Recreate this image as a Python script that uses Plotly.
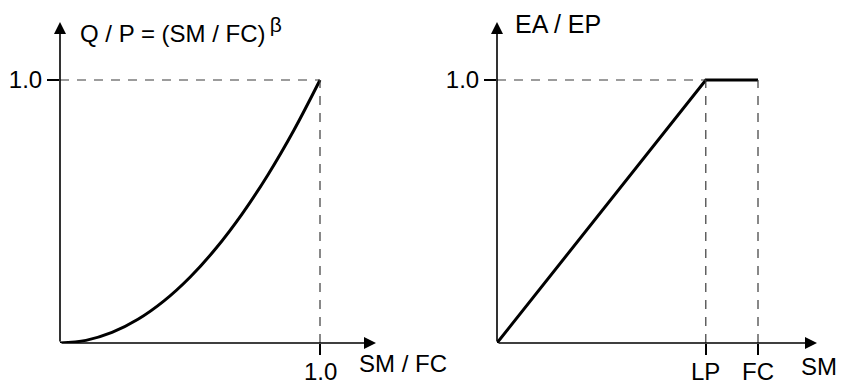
import plotly.graph_objects as go

W, H = 841, 385
FONT = "Liberation Sans, Arial, sans-serif"

# Runoff response: Q/P against relative soil moisture SM/FC (beta close to 2)
sm_fc = [0.0, 0.1, 0.2, 0.3, 0.4, 0.5, 0.6, 0.7, 0.8, 0.9, 1.0]
q_p = [0.0, 0.01, 0.04, 0.09, 0.16, 0.25, 0.36, 0.49, 0.64, 0.81, 1.0]

# Evaporation ratio EA/EP against soil moisture SM
lp = 0.8
fc = 1.0
sm = [0.0, lp, fc]
ea_ep = [0.0, 1.0, 1.0]

left_ticks = [1.0]
left_tick_text = ["1.0"]
right_xticks = [lp, fc]
right_xtick_text = ["LP", "FC"]
y_ticks = [1.0]
y_tick_text = ["1.0"]


def px(x):
    return x / W


def py(y):
    return 1 - y / H


# pixel geometry of the two panels
x0_l, x0_r = 60, 497
y0 = 343
ux_l, ux_r, uy = 260.0, 261.0, 263.0
xend_l, xend_r, ytop_dom = 380, 821, 20

fig = go.Figure()

fig.add_trace(go.Scatter(
    x=sm_fc, y=q_p, mode="lines", line=dict(color="black", width=3, shape="spline"),
    xaxis="x", yaxis="y", hoverinfo="skip", showlegend=False))
fig.add_trace(go.Scatter(
    x=sm, y=ea_ep, mode="lines", line=dict(color="black", width=3),
    xaxis="x2", yaxis="y2", hoverinfo="skip", showlegend=False))

dash = dict(color="#3a3a3a", width=1.2, dash="9px,8px")
# guide lines, left panel
fig.add_shape(type="line", xref="x", yref="y", x0=0, x1=sm_fc[-1], y0=q_p[-1], y1=q_p[-1], line=dash)
fig.add_shape(type="line", xref="x", yref="y", x0=sm_fc[-1], x1=sm_fc[-1], y0=0, y1=q_p[-1], line=dash)
# guide lines, right panel
fig.add_shape(type="line", xref="x2", yref="y2", x0=0, x1=lp, y0=1.0, y1=1.0, line=dash)
fig.add_shape(type="line", xref="x2", yref="y2", x0=lp, x1=lp, y0=0, y1=1.0, line=dash)
fig.add_shape(type="line", xref="x2", yref="y2", x0=fc, x1=fc, y0=0, y1=1.0, line=dash)

ymax = (y0 - 22) / uy
arrows = [
    ("x", "y", (376 - x0_l) / ux_l, 0),
    ("x", "y", 0, ymax),
    ("x2", "y2", (817 - x0_r) / ux_r, 0),
    ("x2", "y2", 0, ymax),
]
for xr, yr, xt, yt in arrows:
    fig.add_annotation(x=xt, y=yt, ax=0, ay=0, xref=xr, yref=yr, axref=xr, ayref=yr,
                       text="", showarrow=True, arrowhead=2, arrowsize=1.5,
                       arrowwidth=1.6, arrowcolor="black", standoff=0, startstandoff=0)

txt = dict(family=FONT, size=24, color="black")
fig.add_annotation(x=px(78), y=py(30), xref="paper", yref="paper", xanchor="left", yanchor="middle",
                   text="Q / P = (SM / FC)<sup><span style='font-size:21px'>\u2009β</span></sup>",
                   showarrow=False, font=txt)
fig.add_annotation(x=px(513), y=py(24), xref="paper", yref="paper", xanchor="left", yanchor="middle",
                   text="EA / EP", showarrow=False, font=dict(family=FONT, size=25, color="black"))
fig.add_annotation(x=px(357), y=py(363), xref="paper", yref="paper", xanchor="left", yanchor="middle",
                   text="SM / FC", showarrow=False, font=txt)
fig.add_annotation(x=px(799), y=py(366), xref="paper", yref="paper", xanchor="left", yanchor="middle",
                   text="SM", showarrow=False, font=txt)

# x tick labels sit low, close to the bottom edge
for xr, vals, labels in (("x", left_ticks, left_tick_text), ("x2", right_xticks, right_xtick_text)):
    for v, lab in zip(vals, labels):
        fig.add_annotation(x=v, y=py(371), xref=xr, yref="paper", xanchor="center", yanchor="middle",
                           text=lab, showarrow=False, font=txt)

common_x = dict(showgrid=False, zeroline=False, showline=False, ticks="outside", ticklen=11,
                tickwidth=1.5, tickcolor="black", showticklabels=False, fixedrange=True)
common_y = dict(showgrid=False, zeroline=False, showline=False, ticks="outside", ticklen=12,
                tickwidth=1.5, tickcolor="black", tickfont=txt, fixedrange=True,
                tickmode="array", tickvals=y_ticks, ticktext=y_tick_text)

fig.update_layout(
    width=W, height=H, margin=dict(l=0, r=0, t=0, b=0),
    paper_bgcolor="white", plot_bgcolor="white", showlegend=False,
    xaxis=dict(domain=[px(x0_l), px(xend_l)], range=[0, (xend_l - x0_l) / ux_l], anchor="y",
               tickmode="array", tickvals=left_ticks, ticktext=left_tick_text, **common_x),
    yaxis=dict(domain=[py(y0), py(ytop_dom)], range=[0, (y0 - ytop_dom) / uy], anchor="x", **common_y),
    xaxis2=dict(domain=[px(x0_r), px(xend_r)], range=[0, (xend_r - x0_r) / ux_r], anchor="y2",
                tickmode="array", tickvals=right_xticks, ticktext=right_xtick_text, **common_x),
    yaxis2=dict(domain=[py(y0), py(ytop_dom)], range=[0, (y0 - ytop_dom) / uy], anchor="x2", **common_y),
)

fig.write_html("out.html")
